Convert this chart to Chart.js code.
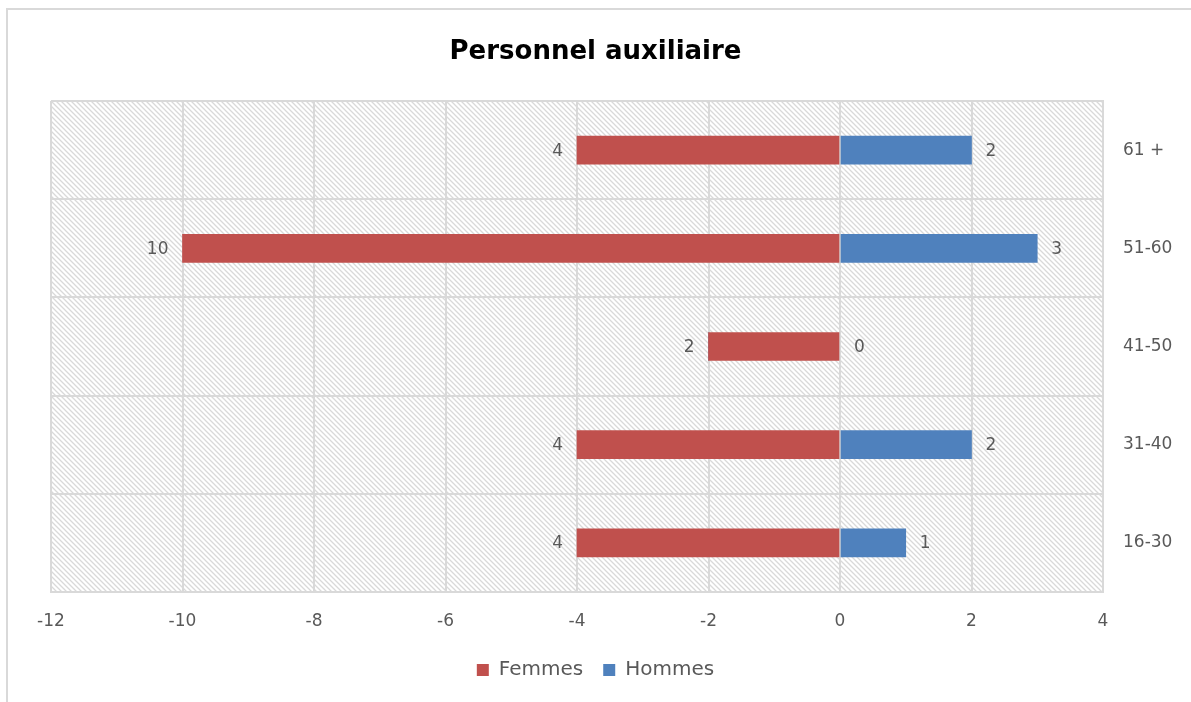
<!DOCTYPE html>
<html>
<head>
<meta charset="utf-8">
<script src="https://cdn.jsdelivr.net/npm/chart.js@4"></script>
<style>
  body { margin: 0; background: #fff; overflow: hidden; }
  #wrap { position: absolute; left: 0; top: 0; width: 1191px; height: 702px; }
</style>
</head>
<body>
<div id="wrap"><canvas id="chart"></canvas></div>
<script>
// Data
const ageGroups = ['61 +', '51-60', '41-50', '31-40', '16-30'];
const femmes = [4, 10, 2, 4, 4];
const hommes = [2, 3, 0, 2, 1];
const xTicks = [-12, -10, -8, -6, -4, -2, 0, 2, 4];

const red = '#C0504D';
const blue = '#4F81BD';
const gridColor = '#d9d9d9';
const textColor = '#595959';
const font = "'Century Gothic', 'DejaVu Sans', sans-serif";

// diagonal hatch used as plot background
function makeHatch() {
    const c = document.createElement('canvas');
    c.width = 5; c.height = 5;
    const g = c.getContext('2d');
    g.strokeStyle = gridColor;
    g.lineWidth = 1.3;
    g.beginPath();
    g.moveTo(-1, -1); g.lineTo(6, 6);
    g.moveTo(-1, 4); g.lineTo(1, 6);
    g.moveTo(4, -1); g.lineTo(6, 1);
    g.stroke();
    return g.createPattern(c, 'repeat');
}

const hatchBg = {
    id: 'hatchBg',
    beforeDraw(chart) {
        const a = chart.chartArea;
        const ctx = chart.ctx;
        ctx.save();
        // outer chart frame (left and top edges visible)
        ctx.strokeStyle = gridColor;
        ctx.lineWidth = 2;
        ctx.beginPath();
        ctx.moveTo(7, chart.height);
        ctx.lineTo(7, 9);
        ctx.lineTo(chart.width, 9);
        ctx.stroke();
        ctx.fillStyle = makeHatch();
        ctx.fillRect(a.left, a.top, a.right - a.left, a.bottom - a.top);
        ctx.restore();
    }
};

// value labels beside the bar ends (women shown as positive numbers)
const valueLabels = {
    id: 'valueLabels',
    afterDatasetsDraw(chart) {
        const ctx = chart.ctx;
        const xs = chart.scales.x;
        ctx.save();
        ctx.font = '17px ' + font;
        ctx.fillStyle = textColor;
        ctx.textBaseline = 'middle';
        chart.data.datasets.forEach((ds, i) => {
            chart.getDatasetMeta(i).data.forEach((bar, j) => {
                const v = ds.data[j];
                const px = xs.getPixelForValue(v);
                if (i === 0) {
                    ctx.textAlign = 'right';
                    ctx.fillText(Math.abs(v), px - 14, bar.y + 1);
                } else {
                    ctx.textAlign = 'left';
                    ctx.fillText(v, px + 14, bar.y + 1);
                }
            });
        });
        ctx.restore();
    }
};

const ctx = document.getElementById('chart').getContext('2d');
new Chart(ctx, {
    type: 'bar',
    data: {
        labels: ageGroups,
        datasets: [
            { label: 'Femmes', data: femmes.map(v => -v), backgroundColor: red, barThickness: 28 },
            { label: 'Hommes', data: hommes, backgroundColor: blue, barThickness: 28 }
        ]
    },
    options: {
        indexAxis: 'y',
        responsive: true,
        maintainAspectRatio: false,
        animation: false,
        layout: { padding: { left: 0, right: 0, top: 0, bottom: 12 } },
        scales: {
            x: {
                stacked: true,
                min: -12,
                max: 4,
                afterBuildTicks: (scale) => { scale.ticks = xTicks.map(v => ({ value: v })); },
                afterFit: (scale) => { scale.height = 48; },
                grid: { color: gridColor, lineWidth: 2, drawTicks: false },
                border: { color: gridColor, width: 2 },
                ticks: { color: textColor, font: { family: font, size: 17 }, padding: 19 }
            },
            y: {
                stacked: true,
                position: 'right',
                afterFit: (scale) => { scale.width = 88; },
                grid: { color: gridColor, lineWidth: 2, drawTicks: false, offset: true },
                border: { color: gridColor, width: 2 },
                ticks: { color: textColor, font: { family: font, size: 17 }, padding: 20 }
            },
            // empty left gutter so the title and legend centre on the whole canvas
            gutter: {
                type: 'category',
                labels: ageGroups,
                position: 'left',
                afterFit: (scale) => { scale.width = 51; },
                grid: { display: false },
                border: { display: false },
                ticks: { display: false }
            }
        },
        plugins: {
            title: {
                display: true,
                text: 'Personnel auxiliaire',
                color: '#000',
                font: { family: font, size: 26, weight: 'bold', lineHeight: 1.2 },
                padding: { top: 37, bottom: 32.8 }
            },
            legend: {
                position: 'bottom',
                labels: {
                    color: textColor,
                    font: { family: font, size: 20 },
                    boxWidth: 12,
                    boxHeight: 12,
                    padding: 20
                }
            },
            tooltip: { enabled: false }
        }
    },
    plugins: [hatchBg, valueLabels]
});
</script>
</body>
</html>
